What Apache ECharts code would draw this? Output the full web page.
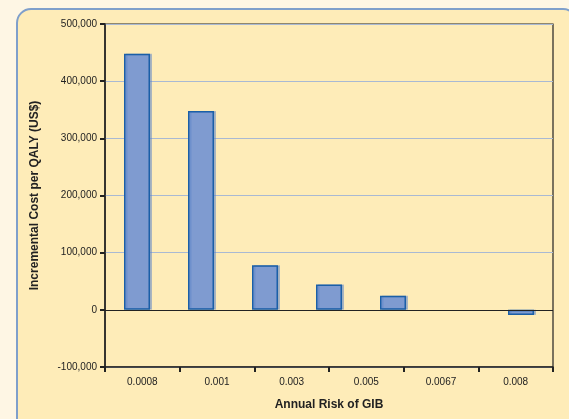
<!DOCTYPE html>
<html>
<head>
<meta charset="utf-8">
<script src="https://cdn.jsdelivr.net/npm/echarts@6/dist/echarts.min.js"></script>
<style>
  html, body { margin: 0; padding: 0; background: #fef6e4; }
  #chart { width: 569px; height: 419px; }
</style>
</head>
<body>
<div id="chart"></div>
<script>
// Annual risk of GIB scenarios and incremental cost per QALY (US$)
const riskLabels = ['0.0008', '0.001', '0.003', '0.005', '0.0067', '0.008'];
// bar slots (the sixth slot has no value)
const barSlots = ['s1', 's2', 's3', 's4', 's5', 's6', 's7'];
const costPerQaly = [448000, 348000, 78000, 44500, 24500, null, -9000];
const yTicks = [-100000, 0, 100000, 200000, 300000, 400000, 500000];

const chart = echarts.init(document.getElementById('chart'), null, { renderer: 'canvas' });
const font = '"Liberation Sans Narrow", "Liberation Sans", Arial, sans-serif';

chart.setOption({
  backgroundColor: '#fef6e4',
  animation: false,
  graphic: [{
    type: 'rect',
    shape: { x: 17, y: 9, width: 560, height: 430, r: 14 },
    style: { fill: '#feecb8', stroke: '#7f9fcb', lineWidth: 2 },
    z: -10
  }],
  grid: {
    left: 105, right: 16, top: 24, bottom: 52,
    show: true, borderColor: '#222', borderWidth: 1.2,
    backgroundColor: 'transparent'
  },
  xAxis: [{
    type: 'category',
    data: barSlots,
    position: 'bottom',
    show: false
  }, {
    type: 'category',
    data: riskLabels,
    position: 'bottom',
    name: 'Annual Risk of GIB',
    nameLocation: 'middle',
    nameGap: 32,
    nameTextStyle: { fontFamily: font, fontWeight: 'bold', fontSize: 12, color: '#222' },
    axisLine: { onZero: false, lineStyle: { color: '#222', width: 1.5 } },
    axisTick: { show: true, length: 5, lineStyle: { color: '#222', width: 2 } },
    axisLabel: { fontFamily: font, fontSize: 10, color: '#222', margin: 10 },
    splitLine: { show: false }
  }],
  yAxis: {
    type: 'value',
    min: yTicks[0], max: yTicks[yTicks.length - 1], interval: 100000,
    name: 'Incremental Cost per QALY (US$)',
    nameLocation: 'middle',
    nameGap: 64,
    nameTextStyle: { fontFamily: font, fontWeight: 'bold', fontSize: 12, color: '#222' },
    axisLine: { show: true, lineStyle: { color: '#222', width: 1.5 } },
    axisTick: { show: true, length: 5, lineStyle: { color: '#222', width: 2 } },
    axisLabel: {
      fontFamily: font, fontSize: 10, color: '#222', margin: 8,
      formatter: v => v.toLocaleString('en-US')
    },
    splitLine: { show: true, lineStyle: { color: '#a9b9d3', width: 1 } }
  },
  series: [{
    type: 'bar',
    xAxisIndex: 0,
    data: costPerQaly,
    barWidth: 26,
    itemStyle: {
      color: '#7f9bd0', borderColor: '#1b5fa7', borderWidth: 1.5,
      shadowColor: 'rgba(90,130,200,0.45)', shadowOffsetX: 2, shadowOffsetY: 0, shadowBlur: 0
    },
    markLine: {
      silent: true,
      symbol: 'none',
      label: { show: false },
      lineStyle: { color: '#222', width: 1.2, type: 'solid' },
      data: [{ yAxis: 0 }]
    }
  }]
});
</script>
</body>
</html>
